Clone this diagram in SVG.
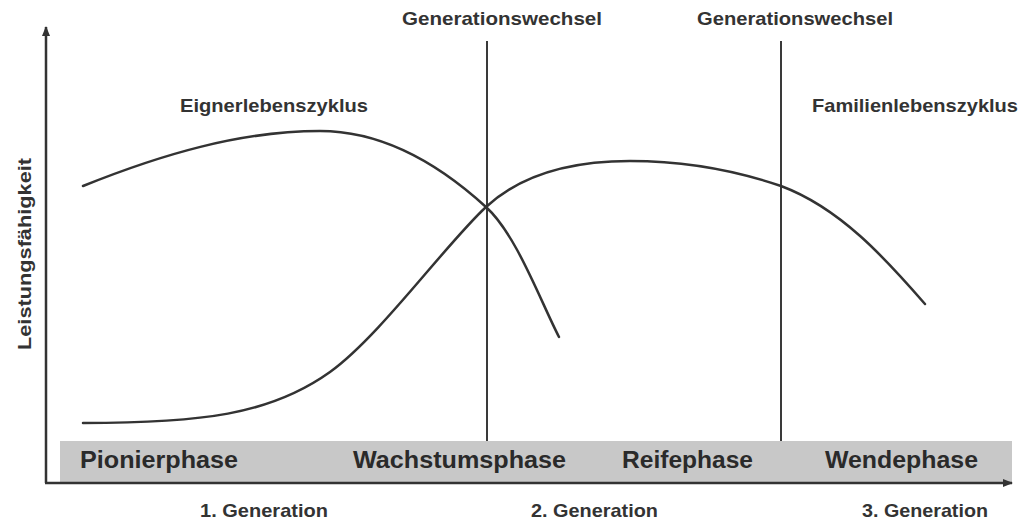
<svg xmlns="http://www.w3.org/2000/svg" width="1020" height="520" viewBox="0 0 1020 520">
<defs>
<style>
.t{font-family:"Liberation Sans",Arial,sans-serif;font-weight:bold;fill:#333;}
.s{font-size:19px;}
.b{font-size:23px;fill:#2a2a2a;}
.ax{stroke:#333;stroke-width:2.5;fill:none;}
.v{stroke:#3a3a3a;stroke-width:2;fill:none;}
.c{stroke:#333;stroke-width:2.5;fill:none;stroke-linecap:round;}
</style>
<marker id="arr" viewBox="0 0 10 10" refX="9" refY="5" markerWidth="4" markerHeight="4" orient="auto" markerUnits="strokeWidth">
<path d="M0,1 L10,5 L0,9 z" fill="#333"/>
</marker>
</defs>
<rect width="1020" height="520" fill="#fff"/>
<g id="band">
<rect x="60" y="441" width="952" height="42" fill="#c8c8c8"/>
<text class="t b" x="80" y="468" textLength="158" lengthAdjust="spacingAndGlyphs">Pionierphase</text>
<text class="t b" x="353" y="468" textLength="213" lengthAdjust="spacingAndGlyphs">Wachstumsphase</text>
<text class="t b" x="622" y="468" textLength="131" lengthAdjust="spacingAndGlyphs">Reifephase</text>
<text class="t b" x="825" y="468" textLength="153" lengthAdjust="spacingAndGlyphs">Wendephase</text>
</g>
<g id="connectors">
<line class="ax" x1="46" y1="483" x2="46" y2="27" marker-end="url(#arr)"/>
<line class="ax" x1="45" y1="483" x2="1012" y2="483" marker-end="url(#arr)"/>
<line class="v" x1="487" y1="41" x2="487" y2="441"/>
<line class="v" x1="781" y1="41" x2="781" y2="441"/>
</g>
<g id="eigner-curve">
<path class="c" d="M83,186 C160,155 240,131 320,131 C385,131 440,165 486,207 C516,234 540,300 559,337"/>
</g>
<g id="familie-curve">
<path class="c" d="M83,423 C200,423 270,415 330,372 C380,336 445,245 486,207 C526,170 580,161 630,161 C690,161 740,172 781,186 C840,208 885,258 925,304"/>
</g>
<g id="labels">
<text class="t s" x="402" y="25" textLength="200" lengthAdjust="spacingAndGlyphs">Generationswechsel</text>
<text class="t s" x="697" y="25" textLength="196" lengthAdjust="spacingAndGlyphs">Generationswechsel</text>
<text class="t s" x="180" y="112" textLength="188" lengthAdjust="spacingAndGlyphs">Eignerlebenszyklus</text>
<text class="t s" x="812" y="112" textLength="206" lengthAdjust="spacingAndGlyphs">Familienlebenszyklus</text>
<text class="t s" x="31" y="350" transform="rotate(-90 31 350)" textLength="192" lengthAdjust="spacingAndGlyphs">Leistungsfähigkeit</text>
<text class="t s" x="200" y="517" textLength="128" lengthAdjust="spacingAndGlyphs">1. Generation</text>
<text class="t s" x="531" y="517" textLength="127" lengthAdjust="spacingAndGlyphs">2. Generation</text>
<text class="t s" x="862" y="517" textLength="126" lengthAdjust="spacingAndGlyphs">3. Generation</text>
</g>
</svg>
